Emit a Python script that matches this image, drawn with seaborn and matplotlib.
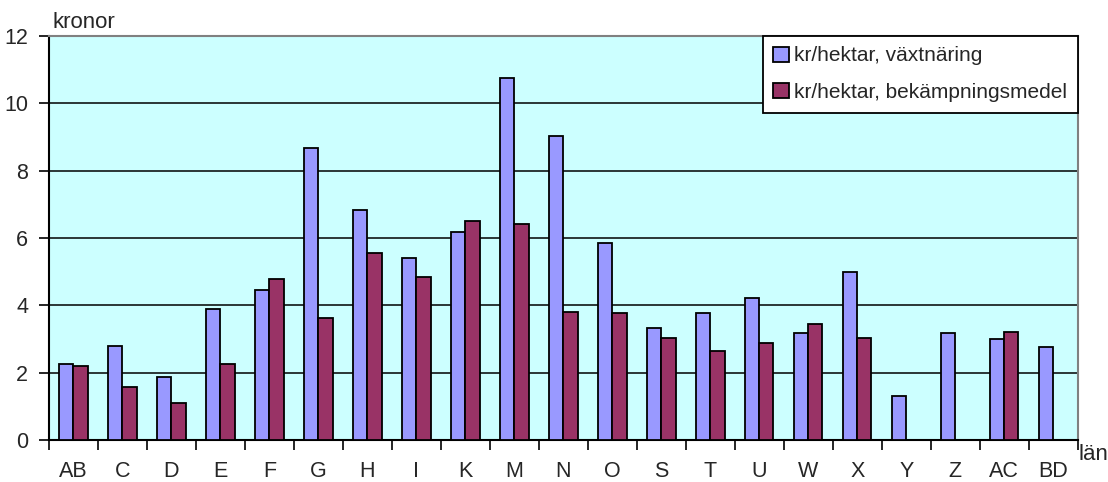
import matplotlib
matplotlib.use("Agg")
import matplotlib.pyplot as plt
import seaborn as sns
import pandas as pd
import numpy as np
from matplotlib.patches import Patch
from matplotlib.ticker import FixedLocator

categories = ["AB", "C", "D", "E", "F", "G", "H", "I", "K", "M", "N", "O",
              "S", "T", "U", "W", "X", "Y", "Z", "AC", "BD"]
vaxtnaring = [2.27, 2.80, 1.86, 3.88, 4.47, 8.68, 6.84, 5.42, 6.19, 10.75, 9.04,
              5.84, 3.33, 3.76, 4.23, 3.17, 5.00, 1.32, 3.17, 2.99, 2.75]
bekampning = [2.21, 1.56, 1.09, 2.27, 4.77, 3.63, 5.54, 4.83, 6.50, 6.42, 3.81,
              3.76, 3.04, 2.63, 2.87, 3.46, 3.04, np.nan, np.nan, 3.21, np.nan]
series_names = ["kr/hektar, växtnäring", "kr/hektar, bekämpningsmedel"]
colors = ["#9999FF", "#993366"]
yticks = [0, 2, 4, 6, 8, 10, 12]

rows = []
for c, v1, v2 in zip(categories, vaxtnaring, bekampning):
    rows.append((c, series_names[0], v1))
    if not np.isnan(v2):
        rows.append((c, series_names[1], v2))
df = pd.DataFrame(rows, columns=["län", "serie", "kronor"])

sns.set_style("white")
plt.rcParams["font.family"] = ["Liberation Sans", "DejaVu Sans"]

fig = plt.figure(figsize=(11.08, 4.82), dpi=100)
ax = fig.add_axes([49/1108, 1-440/482, (1077.7-49)/1108, (440-36)/482])
ax.set_facecolor("#CCFFFF")

sns.barplot(data=df, x="län", y="kronor", hue="serie", order=categories,
            hue_order=series_names, palette=colors, errorbar=None,
            width=0.58, edgecolor="black", linewidth=1.3, ax=ax, legend=False,
            saturation=1, zorder=3)

ax.set_ylim(0, 12)
ax.set_xlim(-0.5, len(categories) - 0.5)
ax.set_yticks(yticks)
ax.set_yticklabels([str(t) for t in yticks], fontsize=15.5)
ax.yaxis.grid(True, color="black", linewidth=1.1, zorder=1)
ax.set_axisbelow(True)
ax.set_xlabel("")
ax.set_ylabel("")

ax.set_xticks(range(len(categories)))
ax.set_xticklabels(categories, fontsize=15.5)
ax.tick_params(axis="x", which="major", length=0, pad=15)
ax.xaxis.set_minor_locator(FixedLocator(np.arange(-0.5, len(categories), 1.0)))
ax.tick_params(axis="x", which="minor", length=7, width=1.2, direction="out", color="black", bottom=True)
ax.tick_params(axis="y", which="major", length=7, width=1.2, direction="out", color="black", left=True, pad=8)

for side in ["top", "right"]:
    ax.spines[side].set_color("#808080")
    ax.spines[side].set_linewidth(1.5)
for side in ["left", "bottom"]:
    ax.spines[side].set_color("black")
    ax.spines[side].set_linewidth(1.5)

handles = [Patch(facecolor=colors[i], edgecolor="black", linewidth=1.3, label=series_names[i]) for i in range(2)]
leg = ax.legend(handles=handles, loc="upper right", bbox_to_anchor=(1.0, 1.0), borderaxespad=0,
                fontsize=15, frameon=True, fancybox=False, handlelength=0.75, handleheight=0.75,
                handletextpad=0.25, labelspacing=0.85, borderpad=0.5)
leg.get_frame().set_edgecolor("black")
leg.get_frame().set_linewidth(1.3)
leg.get_frame().set_facecolor("white")
leg.get_frame().set_alpha(1)
leg.set_zorder(5)

fig.text(53/1108, 1-23/482, "kronor", fontsize=16, va="center", ha="left")
fig.text(1079/1108, 1-455/482, "län", fontsize=16, va="center", ha="left")

fig.savefig("out.png", dpi=100)
